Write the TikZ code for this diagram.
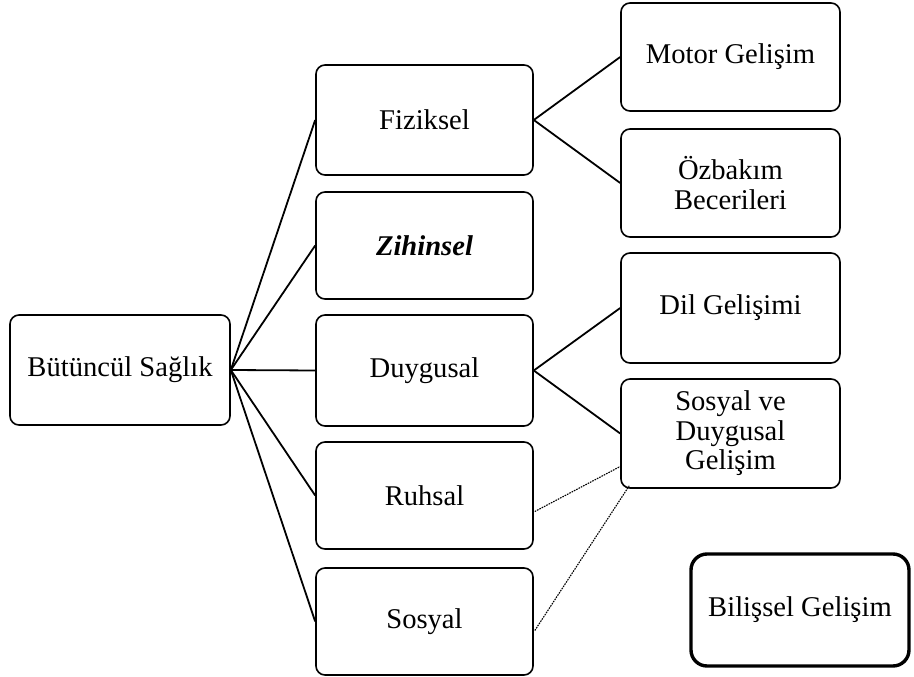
\documentclass[tikz,border=0pt]{standalone}
\usepackage{fontspec}
\setmainfont{Liberation Serif}
\usetikzlibrary{calc}
\begin{document}
\begin{tikzpicture}[x=1pt,y=-1pt,
  box/.style={draw, line width=1.6pt, rounded corners=9pt, align=center,
    font=\fontsize{28.6}{29.5}\selectfont, inner sep=0pt},
  colbox/.style={box, minimum width=217pt},
  leafbox/.style={box, minimum width=219pt},
  link/.style={line width=1.8pt},
  weak/.style={line width=1.1pt, dash pattern=on 1.6pt off 1pt}]
\useasboundingbox (0,0) rectangle (914,677);
\fill[white] (0,0) rectangle (914,677);
% root
\node[box, minimum width=220pt, minimum height=110pt] (root) at (120,370) {Bütüncül Sağlık};
% middle column
\node[colbox, minimum height=110pt] (fiz) at (424.5,120) {Fiziksel};
\node[colbox, minimum height=107pt] (zih) at (424.5,245.5) {\textbf{\textit{Zihinsel}}};
\node[colbox, minimum height=111pt] (duy) at (424.5,370.5) {Duygusal};
\node[colbox, minimum height=107pt] (ruh) at (424.5,495.5) {Ruhsal};
\node[colbox, minimum height=107pt] (sos) at (424.5,621.5) {Sosyal};
% right column
\node[leafbox, minimum height=108pt] (mot) at (730.5,57) {Motor Gelişim};
\node[leafbox, minimum height=108pt] (ozb) at (730.5,183) {Özbakım\\Becerileri};
\node[leafbox, minimum height=110pt] (dil) at (730.5,308) {Dil Gelişimi};
\node[leafbox, minimum height=109pt] (sdg) at (730.5,433.5) {Sosyal ve\\Duygusal\\Gelişim};
\node[box, line width=3.4pt, rounded corners=16pt, minimum width=218pt, minimum height=112pt] (bil) at (800,610) {Bilişsel Gelişim};
% connectors
\foreach \t in {fiz,zih,duy,ruh,sos} \draw[link] (root.east) -- (\t.west);
\draw[link] (fiz.east) -- (mot.west);
\draw[link] (fiz.east) -- (ozb.west);
\draw[link] (duy.east) -- (dil.west);
\draw[link] (duy.east) -- (sdg.west);
\coordinate (r1) at ($(ruh.east)+(1,16)$);
\coordinate (s1) at ($(sdg.west)+(0,33)$);
\coordinate (r2) at ($(sos.east)+(1,9)$);
\coordinate (s2) at ($(sdg.south west)+(9,-3)$);
\draw[weak] (r1) -- (s1);
\draw[weak] (r2) -- (s2);
\end{tikzpicture}
\end{document}
